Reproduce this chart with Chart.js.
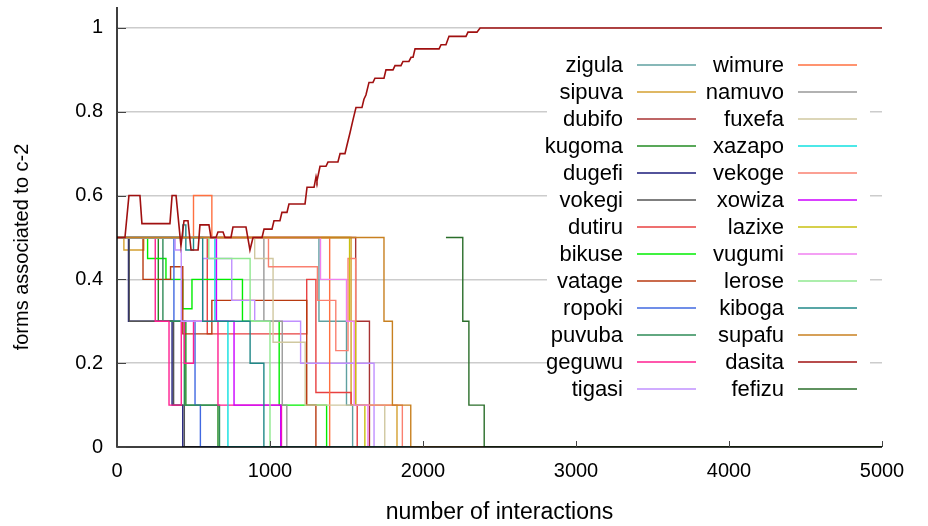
<!DOCTYPE html>
<html><head><meta charset="utf-8">
<script src="https://cdn.jsdelivr.net/npm/chart.js@4/dist/chart.umd.min.js"></script>
<style>html,body{margin:0;padding:0;background:#fff}#wrap{width:928px;height:526px}</style>
</head><body><div id="wrap"><canvas id="c" width="928" height="526"></canvas></div>
<script>
// ---- data (x = number of interactions, y = forms associated to c-2) ----
const xTicks = [0, 1000, 2000, 3000, 4000, 5000];
const yTicks = [0, 0.2, 0.4, 0.6, 0.8, 1];
const names = ["zigula","sipuva","dubifo","kugoma","dugefi","vokegi","dutiru","bikuse","vatage","ropoki","puvuba","geguwu","tigasi",
               "wimure","namuvo","fuxefa","xazapo","vekoge","xowiza","lazixe","vugumi","lerose","kiboga","supafu","dasita","fefizu"];
const colors = ["#5fa0a0","#d4a030","#a83232","#228b22","#1a1a7a","#555555","#e84040","#00ee00","#b83a10","#4169e1","#2e8b57","#ff1f90","#c090ff",
                "#ff7040","#999999","#d0c8a0","#10e0e0","#fa8070","#cc00ff","#c8c010","#f080f0","#90e890","#208888","#c88020","#a01010","#2a6e2a"];
// step series: [x where value changes, new value]
const zigula = [[0,0.5],[1320,0.3],[1500,0.1],[1540,0],[5000,0]];
const sipuva = [[0,0.5],[45,0.47],[175,0.5],[1530,0.1],[1830,0],[5000,0]];
const dubifo = [[0,0.5],[1560,0.3],[1650,0],[5000,0]];
const kugoma = [[0,0.5],[270,0.3],[450,0.1],[660,0],[5000,0]];
const dugefi = [[0,0.5],[75,0.3],[360,0.1],[430,0],[5000,0]];
const vokegi = [[0,0.5],[80,0.3],[370,0.1],[440,0],[5000,0]];
const dutiru = [[0,0.5],[590,0.27],[1240,0.4],[1300,0.13],[1530,0.1],[1570,0],[5000,0]];
const bikuse = [[0,0.5],[200,0.45],[320,0.4],[430,0.33],[490,0.4],[820,0.3],[1060,0.1],[1370,0],[5000,0]];
const vatage = [[0,0.5],[170,0.4],[350,0.43],[430,0.27],[620,0.35],[1240,0.1],[1300,0],[5000,0]];
const ropoki = [[0,0.5],[372,0.3],[510,0.1],[545,0],[5000,0]];
const puvuba = [[0,0.5],[300,0.3],[440,0.1],[670,0],[5000,0]];
const geguwu = [[0,0.5],[250,0.3],[340,0.1],[420,0.3],[440,0.2],[500,0.3],[660,0.1],[1075,0],[5000,0]];
const tigasi = [[0,0.5],[380,0.47],[420,0.3],[560,0.45],[750,0.35],[900,0.3],[1200,0.2],[1680,0],[5000,0]];
const wimure = [[0,0.5],[500,0.6],[620,0.5],[1390,0],[5000,0]];
const namuvo = [[0,0.5],[960,0.3],[1080,0.1],[1110,0],[5000,0]];
const fuxefa = [[0,0.5],[900,0.45],[1020,0.25],[1230,0.1],[1750,0],[5000,0]];
const xazapo = [[0,0.5],[640,0.3],[725,0],[5000,0]];
const vekoge = [[0,0.5],[990,0.43],[1310,0.35],[1430,0.23],[1510,0.45],[1560,0.1],[1865,0],[5000,0]];
const xowiza = [[0,0.5],[650,0.3],[765,0.1],[1070,0],[5000,0]];
const lazixe = [[0,0.5],[1520,0.3],[1560,0.1],[1620,0],[5000,0]];
const vugumi = [[0,0.5],[1330,0.4],[1500,0.3],[1550,0.1],[1640,0],[5000,0]];
const lerose = [[0,0.5],[600,0.45],[870,0.3],[1000,0],[5000,0]];
const kiboga = [[0,0.5],[430,0.53],[450,0.47],[500,0.5],[560,0.3],[870,0.2],[960,0],[5000,0]];
const supafu = [[0,0.5],[1745,0.3],[1800,0.1],[1920,0],[5000,0]];
const fefizu = [[2150,0.5],[2260,0.3],[2300,0.1],[2400,0],[5000,0]];
// dasita: traced points (not stepped)
const dasita = [[0,0.5],[52,0.5],[78,0.6],[150,0.6],[163,0.533],[346,0.533],[360,0.6],[386,0.6],[418,0.48],[438,0.54],[464,0.54],
  [484,0.47],[530,0.47],[542,0.53],[601,0.53],[614,0.5],[647,0.5],[660,0.513],[693,0.513],[706,0.5],[745,0.5],[758,0.525],[843,0.525],
  [869,0.47],[889,0.5],[948,0.5],[961,0.52],[1013,0.52],[1026,0.54],[1065,0.54],[1078,0.56],[1111,0.56],[1124,0.58],[1229,0.58],
  [1242,0.62],[1288,0.62],[1301,0.645],[1307,0.635],[1327,0.67],[1366,0.67],[1379,0.68],[1444,0.68],[1458,0.7],[1490,0.7],[1503,0.72],
  [1523,0.75],[1542,0.78],[1562,0.81],[1601,0.81],[1614,0.83],[1627,0.84],[1647,0.87],[1673,0.87],[1686,0.88],[1745,0.88],[1758,0.9],
  [1804,0.9],[1817,0.91],[1856,0.91],[1869,0.92],[1908,0.92],[1922,0.93],[1935,0.93],[1948,0.95],[2105,0.95],[2118,0.96],[2150,0.96],
  [2170,0.98],[2281,0.98],[2294,0.99],[2353,0.99],[2373,1.0],[5000,1.0]];

const seriesList = [zigula,sipuva,dubifo,kugoma,dugefi,vokegi,dutiru,bikuse,vatage,ropoki,puvuba,geguwu,tigasi,
                    wimure,namuvo,fuxefa,xazapo,vekoge,xowiza,lazixe,vugumi,lerose,kiboga,supafu,dasita,fefizu];

const FONT = '"Liberation Sans", Arial, Helvetica, sans-serif';
const yTitle = 'forms associated to c-2';

const datasets = seriesList.map((s, i) => ({
  label: names[i],
  data: s.map(p => ({x: p[0], y: p[1]})),
  borderColor: colors[i],
  backgroundColor: colors[i],
  borderWidth: names[i] === 'dasita' ? 1.6 : 1.4,
  pointRadius: 0,
  stepped: names[i] === 'dasita' ? false : true,
  order: -i,
  fill: false
}));

const gpPlugin = {
  id: 'gp',
  beforeDatasetsDraw(chart) {
    const ctx = chart.ctx;
    ctx.save();
    ctx.fillStyle = '#ffffff';
    ctx.fillRect(547, 48, 323, 354);
    ctx.restore();
  },
  afterDatasetsDraw(chart) {
    const ctx = chart.ctx, a = chart.chartArea;
    const xs = chart.scales.x, ys = chart.scales.y;
    ctx.save();
    // legend
    ctx.font = '22px ' + FONT;
    ctx.textAlign = 'right';
    ctx.textBaseline = 'middle';
    for (let i = 0; i < names.length; i++) {
      const col = i < 13 ? 0 : 1;
      const row = i % 13;
      const y = 65 + row * 27;
      const tx = col === 0 ? 623 : 784;
      const lx0 = col === 0 ? 637 : 798;
      ctx.fillStyle = '#000';
      ctx.fillText(names[i], tx, y + 1);
      ctx.strokeStyle = colors[i];
      ctx.lineWidth = 1.5;
      ctx.beginPath();
      ctx.moveTo(lx0, y);
      ctx.lineTo(lx0 + 59, y);
      ctx.stroke();
    }
    // y axis title
    ctx.save();
    ctx.translate(22, 247);
    ctx.rotate(-Math.PI / 2);
    ctx.font = '20px ' + FONT;
    ctx.textAlign = 'center';
    ctx.textBaseline = 'middle';
    ctx.fillStyle = '#000';
    ctx.fillText(yTitle, 0, 0);
    ctx.restore();
    // axes
    ctx.strokeStyle = '#000';
    ctx.lineWidth = 1.5;
    ctx.beginPath();
    ctx.moveTo(a.left, a.top);
    ctx.lineTo(a.left, a.bottom);
    ctx.lineTo(a.right, a.bottom);
    ctx.stroke();
    // inward ticks
    ctx.lineWidth = 1;
    ctx.strokeStyle = '#444';
    for (const v of yTicks) {
      const py = Math.round(ys.getPixelForValue(v)) + 0.5;
      ctx.beginPath(); ctx.moveTo(a.left, py); ctx.lineTo(a.left + 9, py); ctx.stroke();
    }
    for (const v of xTicks) {
      const px = Math.round(xs.getPixelForValue(v)) + 0.5;
      ctx.beginPath(); ctx.moveTo(px, a.bottom); ctx.lineTo(px, a.bottom - 6); ctx.stroke();
    }
    ctx.restore();
  }
};

new Chart(document.getElementById('c'), {
  type: 'line',
  data: { datasets },
  options: {
    responsive: false,
    animation: false,
    events: [],
    layout: { padding: { top: 7, right: 46, left: 0, bottom: 0 } },
    plugins: { legend: { display: false }, tooltip: { enabled: false } },
    scales: {
      x: {
        type: 'linear', min: 0, max: 5000,
        afterBuildTicks(scale) { scale.ticks = xTicks.map(v => ({value: v})); },
        afterFit(scale) { scale.height = 79; scale.paddingLeft = 0; scale.paddingRight = 0; },
        grid: { display: false, drawTicks: false },
        border: { display: false },
        ticks: { color: '#000', font: { family: FONT, size: 20 }, padding: 12, maxRotation: 0,
                 callback: v => String(v) },
        title: { display: true, text: 'number of interactions', color: '#000', font: { family: FONT, size: 23 }, padding: { top: 0, bottom: 0 } }
      },
      y: {
        type: 'linear', min: 0, max: 1.05,
        afterBuildTicks(scale) { scale.ticks = yTicks.map(v => ({value: v})); },
        afterFit(scale) { scale.width = 117; scale.paddingTop = 0; scale.paddingBottom = 0; },
        grid: { drawTicks: false, color: ctx => ctx.tick && ctx.tick.value === 0 ? 'rgba(0,0,0,0)' : '#cccccc', lineWidth: 1.5 },
        border: { display: false },
        ticks: { color: '#000', font: { family: FONT, size: 20 }, padding: 14,
                 callback: v => String(Math.round(v * 10) / 10) },
        title: { display: false }
      }
    }
  },
  plugins: [gpPlugin]
});
</script>
</body></html>
